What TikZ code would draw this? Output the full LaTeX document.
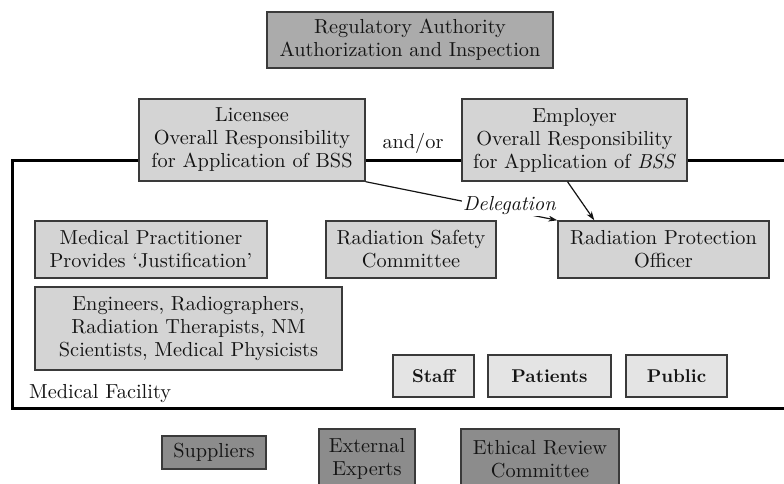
\documentclass[tikz,border=0pt]{standalone}
\usepackage{fontspec}
% 10pt design of Latin Modern at all sizes: sturdier strokes at large sizes
\setmainfont{lmroman10-regular.otf}[
  BoldFont=lmroman10-bold.otf,
  ItalicFont=lmroman10-italic.otf,
  BoldItalicFont=lmroman10-bolditalic.otf]
\usetikzlibrary{arrows.meta,calc}

\definecolor{boxdark}{HTML}{ABABAB}
\definecolor{boxlight}{HTML}{D4D4D4}
\definecolor{boxpale}{HTML}{E4E4E4}
\definecolor{boxext}{HTML}{8C8C8C}
\definecolor{edgegray}{HTML}{3A3A3A}
\definecolor{ink}{HTML}{141414}

\tikzset{
  boxsize/.style 2 args={minimum width=#1, minimum height=#2},
  box/.style={draw=edgegray, line width=1.4pt, inner sep=0pt, align=center,
              text=ink, font=\fontsize{20.3}{23}\selectfont},
  authority/.style={box, fill=boxdark},
  party/.style={box, fill=boxlight},
  person/.style={box, fill=boxpale, font=\fontsize{18.5}{21}\selectfont\bfseries},
  outside/.style={box, fill=boxext},
  facility/.style={line width=3pt, black},
  arr/.style={line width=1.2pt, ink, -{Stealth[length=9pt,width=6pt]}},
  plain/.style={text=ink, font=\fontsize{20.3}{23}\selectfont, inner sep=1pt}
}

\begin{document}
\begin{tikzpicture}[x=1pt,y=-1pt]
\clip (0,0) rectangle (784,483);

% regulator and responsible parties
\node[authority, boxsize={286pt}{56pt}] (reg) at (410,40)
  {Regulatory Authority\\Authorization and Inspection};
\node[party, boxsize={226pt}{82pt}] (lic) at (252,140)
  {Licensee\\Overall Responsibility\\for Application of BSS};
\node[party, boxsize={225pt}{82pt}] (emp) at (574.5,140)
  {Employer\\Overall Responsibility\\for Application of \textit{BSS}};
\node[plain] (andor) at (413,143) {and/or};

% boundary of the medical facility (open on the right)
\coordinate (fTL) at (12,160);
\coordinate (fBL) at (12,408);
\coordinate (fBR) at (790,408);
\coordinate (fTR) at (790,160);
\draw[facility] (lic.west |- fTL) -- (fTL) -- (fBL) -- (fBR);
\draw[facility] (lic.east |- fTL) -- (emp.west |- fTL);
\draw[facility] (emp.east |- fTR) -- (fTR);
\node[plain, anchor=west] (mf) at (28,394) {Medical Facility};

% roles inside the facility
\node[party, boxsize={232pt}{57pt}] (mp) at (151,249.5)
  {Medical Practitioner\\Provides ‘Justification’};
\node[party, boxsize={170pt}{57pt}] (rsc) at (411,249.5)
  {Radiation Safety\\Committee};
\node[party, boxsize={211pt}{57pt}] (rpo) at (663.5,249.5)
  {Radiation Protection\\Officer};
\node[party, boxsize={307pt}{83pt}] (eng) at (188.5,328.5)
  {Engineers, Radiographers,\\Radiation Therapists, NM\\Scientists, Medical Physicists};

\node[person, boxsize={81pt}{42pt}] (staff) at (433.5,376) {Staff};
\node[person, boxsize={123pt}{42pt}] (pat) at (549.5,376) {Patients};
\node[person, boxsize={101pt}{42pt}] (pub) at (676.5,376) {Public};

% delegation to the radiation protection officer
\draw[arr] (lic.south east) -- node[pos=0.75, fill=white, inner sep=1pt, yshift=5pt,
  text=ink, font=\fontsize{20.3}{23}\selectfont\itshape] (del) {Delegation} (rpo.north west);
\draw[arr] ($(emp.south)+(-7,0)$) -- ($(rpo.north west)+(37,0)$);

% parties outside the facility
\node[outside, boxsize={104pt}{33pt}] (sup) at (214,452.5) {Suppliers};
\node[outside, boxsize={96pt}{60pt}] (ext) at (367,459) {External\\Experts};
\node[outside, boxsize={158pt}{60pt}] (erc) at (540,459) {Ethical Review\\Committee};
\end{tikzpicture}
\end{document}
